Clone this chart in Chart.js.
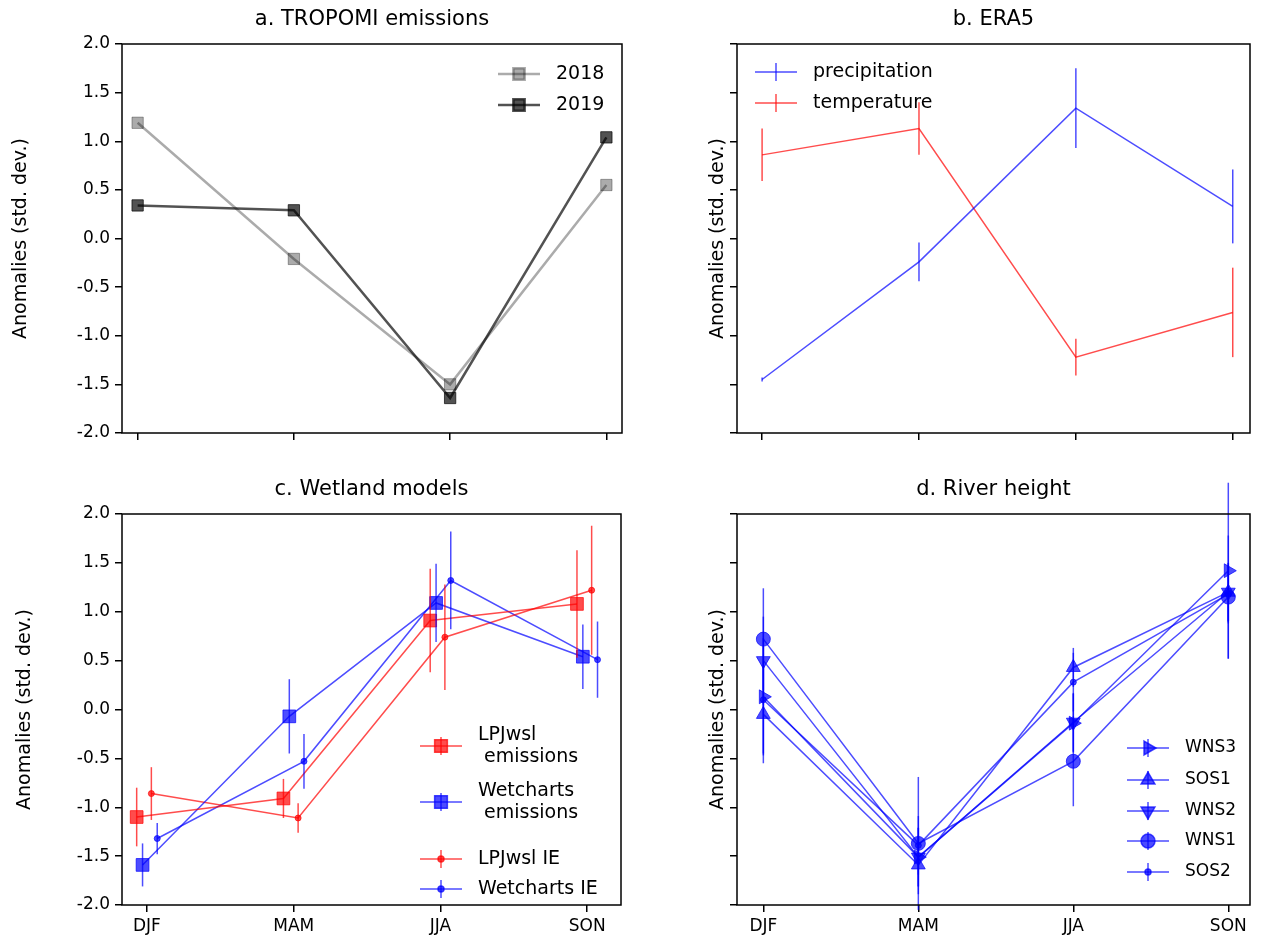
<!DOCTYPE html>
<html lang="en">
<head>
<meta charset="UTF-8">
<title>Anomalies</title>
<script src="https://cdn.jsdelivr.net/npm/chart.js"></script>
<style>
body { margin: 0; background: #fff; font-family: 'DejaVu Sans', sans-serif; }
.panel { position: absolute; }
</style>
</head>
<body>
<div class="panel" style="left:0;top:0;width:631px;height:470px"><canvas id="chartA"></canvas></div>
<div class="panel" style="left:631px;top:0;width:631px;height:470px"><canvas id="chartB"></canvas></div>
<div class="panel" style="left:0;top:470px;width:631px;height:473px"><canvas id="chartC"></canvas></div>
<div class="panel" style="left:631px;top:470px;width:631px;height:473px"><canvas id="chartD"></canvas></div>
<script>
const seasons = ['DJF', 'MAM', 'JJA', 'SON'];
const yTicks = [-2, -1.5, -1, -0.5, 0, 0.5, 1, 1.5, 2];

// a. TROPOMI emissions
const tropomi2018 = [1.19, -0.21, -1.50, 0.55];
const tropomi2019 = [0.34, 0.29, -1.64, 1.04];

// b. ERA5
const precip = [-1.45, -0.24, 1.34, 0.33];
const precipErr = [0.02, 0.20, 0.41, 0.38];
const temp = [0.86, 1.13, -1.22, -0.76];
const tempErr = [0.27, 0.27, 0.19, 0.46];

// c. Wetland models
const lpjEmis = [-1.10, -0.91, 0.91, 1.08];
const lpjEmisErr = [0.30, 0.20, 0.53, 0.55];
const wetEmis = [-1.59, -0.07, 1.09, 0.54];
const wetEmisErr = [0.22, 0.38, 0.40, 0.33];
const lpjIE = [-0.86, -1.11, 0.74, 1.22];
const lpjIEErr = [0.27, 0.15, 0.54, 0.66];
const wetIE = [-1.32, -0.53, 1.32, 0.51];
const wetIEErr = [0.16, 0.28, 0.50, 0.39];

// d. River height
const wns3 = [0.13, -1.51, -0.14, 1.42];
const wns3Err = [0.60, 0.30, 0.30, 0.90];
const sos1 = [-0.05, -1.59, 0.43, 1.20];
const sos1Err = [0.50, 0.30, 0.20, 0.30];
const wns2 = [0.50, -1.51, -0.13, 1.20];
const wns2Err = [0.45, 0.30, 0.30, 0.30];
const wns1 = [0.72, -1.37, -0.53, 1.15];
const wns1Err = [0.52, 0.68, 0.46, 0.63];
const sos2 = [0.10, -1.39, 0.28, 1.18];
const sos2Err = [0.55, 0.30, 0.30, 0.30];

const RED = 'rgba(255,0,0,0.7)';
const BLUE = 'rgba(0,0,255,0.7)';
const FONT = "'DejaVu Sans', sans-serif";

function pts(vals, shift) {
  return vals.map((v, i) => ({ x: i + (shift || 0), y: v }));
}

function series(label, vals, color, style, radius, errs, shift, rotation, width) {
  return {
    label: label, data: pts(vals, shift), errs: errs,
    borderColor: color, backgroundColor: color, borderWidth: width || 1.5,
    pointStyle: style, pointRadius: radius, pointRotation: rotation || 0,
    pointBorderWidth: 1, showLine: true, tension: 0
  };
}

// vertical error bars + frame + title + inner legend
const extras = {
  id: 'extras',
  afterDatasetsDraw(chart, args, opts) {
    const ctx = chart.ctx, xs = chart.scales.x, ys = chart.scales.y;
    chart.data.datasets.forEach(ds => {
      if (!ds.errs) return;
      ctx.save();
      ctx.strokeStyle = ds.borderColor;
      ctx.lineWidth = 1.5;
      ds.data.forEach((p, i) => {
        const e = ds.errs[i];
        ctx.beginPath();
        ctx.moveTo(xs.getPixelForValue(p.x), ys.getPixelForValue(p.y - e));
        ctx.lineTo(xs.getPixelForValue(p.x), ys.getPixelForValue(p.y + e));
        ctx.stroke();
      });
      ctx.restore();
    });
  },
  afterDraw(chart, args, opts) {
    const ctx = chart.ctx, a = chart.chartArea;
    ctx.save();
    ctx.strokeStyle = '#000';
    ctx.lineWidth = 1.5;
    ctx.strokeRect(a.left, a.top, a.right - a.left, a.bottom - a.top);
    ctx.fillStyle = '#000';
    ctx.font = '21px ' + FONT;
    ctx.textAlign = 'center';
    ctx.textBaseline = 'middle';
    ctx.fillText(opts.title, (a.left + a.right) / 2, a.top - 24);
    const lg = opts.legend;
    if (lg) {
      ctx.font = lg.size + 'px ' + FONT;
      ctx.textAlign = 'left';
      chart.data.datasets.forEach((ds, i) => {
        const lines = ds.label.split('\n');
        const yy = lg.y + lg.rows[i];
        const x0 = lg.x;
        ctx.strokeStyle = ds.borderColor;
        ctx.lineWidth = ds.borderWidth;
        ctx.beginPath();
        ctx.moveTo(x0, yy); ctx.lineTo(x0 + 42, yy);
        ctx.stroke();
        if (ds.errs) {
          ctx.lineWidth = 1.5;
          ctx.beginPath(); ctx.moveTo(x0 + 21, yy - 9); ctx.lineTo(x0 + 21, yy + 9); ctx.stroke();
        }
        ctx.fillStyle = ds.borderColor;
        Chart.helpers.drawPoint(ctx, {
          pointStyle: ds.pointStyle, radius: ds.pointRadius, rotation: ds.pointRotation, borderWidth: 1
        }, x0 + 21, yy);
        ctx.fillStyle = '#000';
        const lh = lg.size * 1.15;
        lines.forEach((t, k) => {
          ctx.fillText(t, x0 + 58, yy + (k - (lines.length - 1) / 2) * lh);
        });
      });
    }
    ctx.restore();
  }
};

function makeChart(id, datasets, cfg) {
  return new Chart(document.getElementById(id), {
    type: 'scatter',
    data: { datasets: datasets },
    plugins: [extras],
    options: {
      responsive: true, maintainAspectRatio: false, animation: false,
      layout: { padding: { top: 44, right: cfg.right, left: cfg.left, bottom: 0 } },
      plugins: {
        legend: { display: false }, tooltip: { enabled: false },
        extras: { title: cfg.title, legend: cfg.legend }
      },
      scales: {
        x: {
          type: 'linear', min: cfg.xmin, max: cfg.xmax,
          afterBuildTicks: s => { s.ticks = [0, 1, 2, 3].map(v => ({ value: v })); },
          afterFit: s => { s.height = cfg.xh; },
          grid: { drawOnChartArea: false, tickLength: 7, color: '#000', lineWidth: 1.5 },
          border: { display: false },
          ticks: {
            display: cfg.xlabels, color: '#000', font: { size: 17, family: FONT }, padding: 4,
            callback: v => seasons[v]
          }
        },
        y: {
          min: -2, max: 2,
          afterBuildTicks: s => { s.ticks = yTicks.map(v => ({ value: v })); },
          afterFit: s => { s.width = cfg.yw; },
          grid: { drawOnChartArea: false, tickLength: 7, color: '#000', lineWidth: 1.5 },
          border: { display: false },
          title: { display: true, text: 'Anomalies (std. dev.)', color: '#000', font: { size: 19, family: FONT }, padding: 0 },
          ticks: {
            display: cfg.ylabels, color: '#000', font: { size: 17, family: FONT }, padding: 5,
            callback: v => v.toFixed(1)
          }
        }
      }
    }
  });
}

makeChart('chartA', [
  series('2018', tropomi2018, 'rgba(0,0,0,0.33)', 'rect', 8, null, 0, 0, 2.5),
  series('2019', tropomi2019, 'rgba(0,0,0,0.68)', 'rect', 8, null, 0, 0, 2.5)
], { title: 'a. TROPOMI emissions', left: 10, right: 2, yw: 112, xh: 37, xmin: -0.1, xmax: 3.1,
     xlabels: false, ylabels: true, legend: { x: 498, y: 74, size: 19, rows: [0, 31] } });

makeChart('chartB', [
  series('precipitation', precip, BLUE, 'line', 0, precipErr, 0),
  series('temperature', temp, RED, 'line', 0, tempErr, 0)
], { title: 'b. ERA5', left: 76, right: 12, yw: 30, xh: 37, xmin: -0.16, xmax: 3.11,
     xlabels: false, ylabels: false, legend: { x: 124, y: 72, size: 19, rows: [0, 31] } });

makeChart('chartC', [
  series('LPJwsl\n emissions', lpjEmis, RED, 'rect', 9, lpjEmisErr, -0.07),
  series('Wetcharts\n emissions', wetEmis, BLUE, 'rect', 9, wetEmisErr, -0.03),
  series('LPJwsl IE', lpjIE, RED, 'circle', 3, lpjIEErr, 0.03),
  series('Wetcharts IE', wetIE, BLUE, 'circle', 3, wetIEErr, 0.07)
], { title: 'c. Wetland models', left: 14, right: 2, yw: 108, xh: 38, xmin: -0.17, xmax: 3.23,
     xlabels: true, ylabels: true, legend: { x: 420, y: 276, size: 19, rows: [0, 56, 113, 143] } });

makeChart('chartD', [
  series('WNS3', wns3, BLUE, 'triangle', 8, wns3Err, 0, 90),
  series('SOS1', sos1, BLUE, 'triangle', 8, sos1Err, 0),
  series('WNS2', wns2, BLUE, 'triangle', 8, wns2Err, 0, 180),
  series('WNS1', wns1, BLUE, 'circle', 7, wns1Err, 0),
  series('SOS2', sos2, BLUE, 'circle', 3, sos2Err, 0)
], { title: 'd. River height', left: 76, right: 12, yw: 30, xh: 38, xmin: -0.17, xmax: 3.14,
     xlabels: true, ylabels: false, legend: { x: 496, y: 278, size: 17, rows: [0, 32, 63, 93, 124] } });
</script>
</body>
</html>
